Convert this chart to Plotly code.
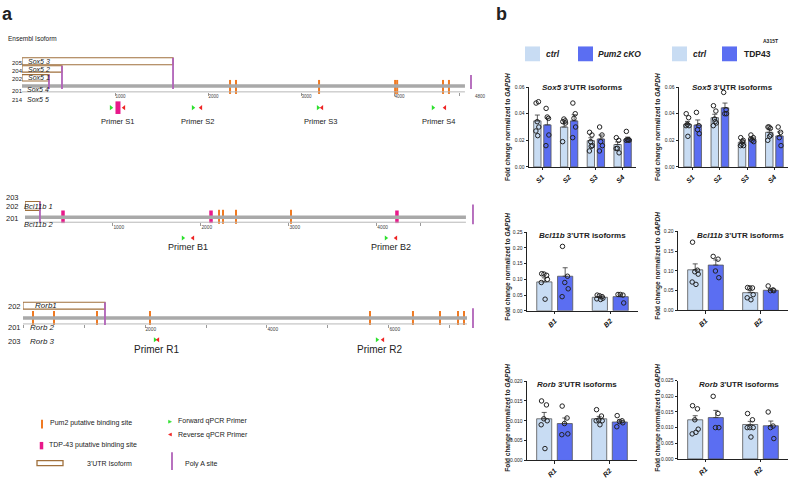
import plotly.graph_objects as go

W, H = 789, 479
FONT = "Liberation Sans, Arial, sans-serif"

def fx(p):
    return p / W

def fy(p):
    return 1 - p / H

ORANGE = "#f07a22"
PINK = "#e8188a"
PURPLE = "#b062b8"
BROWN = "#a0703c"
GREEN = "#2ee02e"
RED = "#ee2424"
LIGHT = "#c8dcf3"
DARK = "#5b6ef2"

# ====================== DATA ======================
# ---- Gene schematics (positions in nucleotides) ----
sox5_iso_names = ["Sox5 3", "Sox5 2", "Sox5 1"]
sox5_iso_ends = [1624, 430, 290]
sox5_ids = ["205", "204", "202", "201", "214"]
sox5_other_names = ["Sox5 4", "Sox5 5"]
sox5_utr_end = 4763
sox5_last_polya = 4828
sox5_pum2 = [2237, 2301, 3194, 4012, 4034, 4527, 4591]
sox5_tdp43 = [1032]
sox5_fwd = [957, 1839, 3183, 4419]
sox5_rev = [1097, 1925, 3226, 4548]
sox5_primer_names = ["Primer S1", "Primer S2", "Primer S3", "Primer S4"]
sox5_tickvals = [1000, 2000, 3000, 4000, 4700]
sox5_ticktext = ["1000", "2000", "3000", "4000", ""]

bcl_iso_names = ["Bcl11b 1"]
bcl_iso_ends = [170]
bcl_ids = ["203", "202", "201"]
bcl_other_names = ["Bcl11b 2"]
bcl_utr_end = 5011
bcl_last_polya = 5091
bcl_pum2 = [2205, 2250, 2398, 3023]
bcl_tdp43 = [432, 2114, 4227]
bcl_fwd = [1795, 4102]
bcl_rev = [1909, 4216]
bcl_primer_names = ["Primer B1", "Primer B2"]
bcl_tickvals = [1000, 2000, 3000, 4000, 4500]
bcl_ticktext = ["1000", "2000", "3000", "4000", ""]

rorb_iso_names = ["Rorb1"]
rorb_iso_ends = [1344]
rorb_ids = ["202", "201", "203"]
rorb_other_names = ["Rorb 2", "Rorb 3"]
rorb_utr_end = 7279
rorb_last_polya = 7377
rorb_pum2 = [164, 508, 1213, 2082, 5689, 6393, 6836, 7131, 7230]
rorb_tdp43 = []
rorb_fwd = [2164, 5803]
rorb_rev = [2213, 5902]
rorb_primer_names = ["Primer R1", "Primer R2"]
rorb_tickvals = [0, 1000, 2000, 3000, 4000, 5000, 6000, 7000]
rorb_ticktext = ["", "", "2000", "", "4000", "", "6000", ""]

# ---- qPCR bar charts ----
sox5_cats = ["S1", "S2", "S3", "S4"]
bcl_cats = ["B1", "B2"]
rorb_cats = ["R1", "R2"]

# Pum2 cKO experiment
sox5_pum2_ctrl_mean = [0.0346, 0.0300, 0.0197, 0.0168]
sox5_pum2_ctrl_sem = [0.0044, 0.0028, 0.0022, 0.0020]
sox5_pum2_ctrl_pts = [[0.048, 0.049, 0.034, 0.030, 0.027, 0.0235],
                      [0.034, 0.0346, 0.036, 0.033, 0.019],
                      [0.026, 0.024, 0.019, 0.016, 0.012, 0.0155],
                      [0.022, 0.020, 0.014, 0.0106, 0.0138]]
sox5_pum2_cko_mean = [0.0316, 0.0346, 0.0210, 0.0210]
sox5_pum2_cko_sem = [0.0050, 0.0046, 0.0030, 0.0014]
sox5_pum2_cko_pts = [[0.044, 0.0365, 0.0375, 0.024, 0.016],
                     [0.048, 0.040, 0.0365, 0.030, 0.022],
                     [0.030, 0.024, 0.019, 0.016, 0.012],
                     [0.0267, 0.0205, 0.0205, 0.020, 0.020]]

bcl_pum2_ctrl_mean = [0.092, 0.043]
bcl_pum2_ctrl_sem = [0.013, 0.003]
bcl_pum2_ctrl_pts = [[0.118, 0.113, 0.117, 0.100, 0.090, 0.037],
                     [0.050, 0.045, 0.048, 0.040, 0.038, 0.036]]
bcl_pum2_cko_mean = [0.110, 0.045]
bcl_pum2_cko_sem = [0.027, 0.006]
bcl_pum2_cko_pts = [[0.205, 0.110, 0.090, 0.070, 0.045],
                    [0.052, 0.050, 0.052, 0.025]]

rorb_pum2_ctrl_mean = [0.0105, 0.0105]
rorb_pum2_ctrl_sem = [0.0016, 0.0006]
rorb_pum2_ctrl_pts = [[0.0150, 0.0140, 0.0105, 0.0100, 0.0090, 0.0030],
                      [0.0128, 0.0112, 0.0102, 0.0100, 0.0100, 0.0090]]
rorb_pum2_cko_mean = [0.0093, 0.0097]
rorb_pum2_cko_sem = [0.0014, 0.0005]
rorb_pum2_cko_pts = [[0.0137, 0.0107, 0.0093, 0.0067, 0.0065],
                     [0.0113, 0.0100, 0.0098, 0.0095, 0.0085]]

# TDP43 A315T experiment
sox5_tdp_ctrl_mean = [0.0320, 0.0370, 0.0185, 0.0260]
sox5_tdp_ctrl_sem = [0.0022, 0.0026, 0.0012, 0.0020]
sox5_tdp_ctrl_pts = [[0.040, 0.037, 0.032, 0.031, 0.031, 0.023],
                     [0.046, 0.042, 0.036, 0.033, 0.031, 0.034],
                     [0.022, 0.020, 0.017, 0.016, 0.016, 0.019],
                     [0.030, 0.029, 0.030, 0.024, 0.020, 0.023]]
sox5_tdp_mut_mean = [0.0315, 0.0444, 0.0210, 0.0233]
sox5_tdp_mut_sem = [0.0038, 0.0036, 0.0012, 0.0030]
sox5_tdp_mut_pts = [[0.041, 0.031, 0.028, 0.025],
                    [0.056, 0.043, 0.040, 0.040],
                    [0.024, 0.022, 0.020, 0.019, 0.021],
                    [0.030, 0.026, 0.022, 0.016]]

bcl_tdp_ctrl_mean = [0.103, 0.045]
bcl_tdp_ctrl_sem = [0.015, 0.005]
bcl_tdp_ctrl_pts = [[0.173, 0.102, 0.098, 0.092, 0.072, 0.066],
                    [0.058, 0.057, 0.057, 0.040, 0.032, 0.027]]
bcl_tdp_mut_mean = [0.115, 0.051]
bcl_tdp_mut_sem = [0.013, 0.003]
bcl_tdp_mut_pts = [[0.137, 0.130, 0.100, 0.083],
                   [0.062, 0.052, 0.050, 0.050]]

rorb_tdp_ctrl_mean = [0.0125, 0.0110]
rorb_tdp_ctrl_sem = [0.0013, 0.0010]
rorb_tdp_ctrl_pts = [[0.0170, 0.0160, 0.0125, 0.0095, 0.0080, 0.0085],
                     [0.0145, 0.0125, 0.0100, 0.0100, 0.0100, 0.0070]]
rorb_tdp_mut_mean = [0.0132, 0.0106]
rorb_tdp_mut_sem = [0.0023, 0.0015]
rorb_tdp_mut_pts = [[0.0200, 0.0145, 0.0100, 0.0100],
                    [0.0150, 0.0105, 0.0100, 0.0065]]

# ====================== FIGURE ======================
BARGAP = 0.25
BARGROUPGAP = 0.27
SLOT = (1 - BARGAP) / 2            # width of one trace slot in category units
OFFSETS = [-SLOT / 2, SLOT / 2]    # centre of ctrl / mutant bars
SPREAD = [-0.35, 0.3, -0.05, 0.4, -0.4, 0.1, 0.2]  # point scatter pattern (fraction of bar width)
BAR_W = SLOT * (1 - BARGROUPGAP)

fig = go.Figure()
shapes = []
annotations = []
axes = {}

def txt(x, y, text, size, xref="paper", yref="paper", xanchor="left", color="#222", angle=0, yanchor="middle"):
    annotations.append(dict(x=x, y=y, xref=xref, yref=yref, text=text, showarrow=False,
                            xanchor=xanchor, yanchor=yanchor, textangle=angle,
                            font=dict(family=FONT, size=size, color=color)))

# Left panel y axis in pixel units
axes["yaxis"] = dict(domain=[0, 1], range=[H, 0], visible=False, fixedrange=True)

GENES = {
    1: dict(domain=(22, 475), xmax=4871, bar_y=84, axis_y=90,
            boxes=[(55.5, 62.5), (63.5, 70), (72.5, 79)], polya_bottom=87,
            last_polya=(73, 87), site_y=85, tdp_y=106, tdp_w=5, tdp_size=9,
            primer_y=106, label_y=120, label_font=7.5,
            id_x=10, id_ys=[61, 69, 77, 89, 98], id_font=6,
            iso_name_x=26, iso_name_ys=[59, 67, 75.5],
            other_name_x=25, other_name_ys=[88, 98], name_font=7, tick_font=4.5),
    2: dict(domain=(25, 475), xmax=5114, bar_y=217, axis_y=222,
            boxes=[(201, 210)], polya_bottom=222,
            last_polya=(204, 224), site_y=216.5, tdp_y=216.5, tdp_w=3.5, tdp_size=9,
            primer_y=238, label_y=247.5, label_font=9,
            id_x=4, id_ys=[197, 206, 218], id_font=7.5,
            iso_name_x=22, iso_name_ys=[206],
            other_name_x=22, other_name_ys=[224], name_font=7.5, tick_font=4.8),
    3: dict(domain=(23, 475), xmax=7410, bar_y=319, axis_y=325,
            boxes=[(303, 310)], polya_bottom=326,
            last_polya=(309, 329), site_y=319, tdp_y=319, tdp_w=3.5, tdp_size=9,
            primer_y=341, label_y=350.5, label_font=10,
            id_x=6, id_ys=[307, 329, 343], id_font=7.5,
            iso_name_x=33, iso_name_ys=[306.5],
            other_name_x=28, other_name_ys=[329, 343], name_font=8, tick_font=4.8),
}

def add_gene(k, iso_ends, iso_names, ids, other_names, utr_end, last_polya,
             pum2, tdp43, fwd, rev, pnames, tickvals, ticktext):
    G = GENES[k]
    xa = "x" if k == 1 else f"x{k}"
    axname = "xaxis" if k == 1 else f"xaxis{k}"
    axes[axname] = dict(domain=[fx(G["domain"][0]), fx(G["domain"][1])], range=[0, G["xmax"]],
                        anchor="free", position=fy(G["axis_y"]), showline=False, showgrid=False,
                        zeroline=False, ticks="outside", ticklen=3, tickwidth=0.8, tickcolor="#9a9a9a",
                        tickvals=tickvals, ticktext=ticktext, ticklabelposition="outside right",
                        tickfont=dict(family=FONT, size=G["tick_font"], color="#444"), fixedrange=True)
    shapes.append(dict(type="line", xref=xa, yref="y", x0=0, x1=utr_end, y0=G["axis_y"], y1=G["axis_y"],
                       line=dict(color="#b8b8b8", width=1)))
    shapes.append(dict(type="line", xref=xa, yref="y", x0=0, x1=utr_end, y0=G["bar_y"], y1=G["bar_y"],
                       line=dict(color="#a9a9a9", width=3.5)))
    for (top, bot), end in zip(G["boxes"], iso_ends):
        shapes.append(dict(type="rect", xref=xa, yref="y", x0=0, x1=end, y0=top, y1=bot,
                           line=dict(color=BROWN, width=1.1), fillcolor="rgba(255,255,255,0)"))
        shapes.append(dict(type="line", xref=xa, yref="y", x0=end, x1=end, y0=top, y1=G["polya_bottom"],
                           line=dict(color=PURPLE, width=1.8)))
    shapes.append(dict(type="line", xref=xa, yref="y", x0=last_polya, x1=last_polya,
                       y0=G["last_polya"][0], y1=G["last_polya"][1], line=dict(color=PURPLE, width=1.8)))
    fig.add_trace(go.Scatter(x=pum2, y=[G["site_y"]] * len(pum2), xaxis=xa, yaxis="y", mode="markers",
                             marker=dict(symbol="line-ns", size=10, color=ORANGE,
                                         line=dict(color=ORANGE, width=2)),
                             cliponaxis=False, showlegend=False, hoverinfo="skip"))
    if tdp43:
        fig.add_trace(go.Scatter(x=tdp43, y=[G["tdp_y"]] * len(tdp43), xaxis=xa, yaxis="y", mode="markers",
                                 marker=dict(symbol="line-ns", size=G["tdp_size"], color=PINK,
                                             line=dict(color=PINK, width=G["tdp_w"])),
                                 cliponaxis=False, showlegend=False, hoverinfo="skip"))
    fig.add_trace(go.Scatter(x=fwd, y=[G["primer_y"]] * len(fwd), xaxis=xa, yaxis="y", mode="markers",
                             marker=dict(symbol="triangle-right", size=4.5, color=GREEN),
                             cliponaxis=False, showlegend=False, hoverinfo="skip"))
    fig.add_trace(go.Scatter(x=rev, y=[G["primer_y"]] * len(rev), xaxis=xa, yaxis="y", mode="markers",
                             marker=dict(symbol="triangle-left", size=4.5, color=RED),
                             cliponaxis=False, showlegend=False, hoverinfo="skip"))
    for f, r, name in zip(fwd, rev, pnames):
        txt((f + r) / 2, G["label_y"], name, G["label_font"], xref=xa, yref="y", xanchor="center")
    for yv, t in zip(G["id_ys"], ids):
        txt(fx(G["id_x"]), yv, t, G["id_font"], yref="y")
    for yv, t in zip(G["iso_name_ys"], iso_names):
        txt(fx(G["iso_name_x"]), yv, f"<i>{t}</i>", G["name_font"], yref="y")
    for yv, t in zip(G["other_name_ys"], other_names):
        txt(fx(G["other_name_x"]), yv, f"<i>{t}</i>", G["name_font"], yref="y")

add_gene(1, sox5_iso_ends, sox5_iso_names, sox5_ids, sox5_other_names, sox5_utr_end, sox5_last_polya,
         sox5_pum2, sox5_tdp43, sox5_fwd, sox5_rev, sox5_primer_names, sox5_tickvals, sox5_ticktext)
add_gene(2, bcl_iso_ends, bcl_iso_names, bcl_ids, bcl_other_names, bcl_utr_end, bcl_last_polya,
         bcl_pum2, bcl_tdp43, bcl_fwd, bcl_rev, bcl_primer_names, bcl_tickvals, bcl_ticktext)
add_gene(3, rorb_iso_ends, rorb_iso_names, rorb_ids, rorb_other_names, rorb_utr_end, rorb_last_polya,
         rorb_pum2, rorb_tdp43, rorb_fwd, rorb_rev, rorb_primer_names, rorb_tickvals, rorb_ticktext)

# extra labels left panel
txt(fx(0), fy(11), "<b>a</b>", 18)
txt(fx(6), fy(36), "Ensembl Isoform", 6.5)
txt(fx(473), fy(94.5), "4800", 4.5, color="#444")

# bottom-left legend
shapes.append(dict(type="line", xref="paper", yref="paper", x0=fx(42), x1=fx(42), y0=fy(422), y1=fy(431),
                   line=dict(color=ORANGE, width=2)))
txt(fx(48), fy(425.5), "Pum2 putative binding site", 7)
shapes.append(dict(type="line", xref="paper", yref="paper", x0=fx(41.5), x1=fx(41.5), y0=fy(444.5), y1=fy(452),
                   line=dict(color=PINK, width=3.5)))
txt(fx(47), fy(448), "TDP-43 putative binding site", 7)
shapes.append(dict(type="rect", xref="paper", yref="paper", x0=fx(37), x1=fx(63), y0=fy(463.5), y1=fy(468.5),
                   line=dict(color=BROWN, width=1.3)))
txt(fx(85), fy(466), "3'UTR Isoform", 7)
shapes.append(dict(type="path", xref="paper", yref="paper",
                   path=f"M {fx(168.5)} {fy(422.5)} L {fx(171.5)} {fy(424)} L {fx(168.5)} {fy(425.5)} Z",
                   fillcolor=GREEN, line=dict(color=GREEN, width=0.5)))
txt(fx(176), fy(423.5), "Forward qPCR Primer", 7)
shapes.append(dict(type="path", xref="paper", yref="paper",
                   path=f"M {fx(171.5)} {fy(435.5)} L {fx(168.5)} {fy(437)} L {fx(171.5)} {fy(438.5)} Z",
                   fillcolor=RED, line=dict(color=RED, width=0.5)))
txt(fx(176), fy(437), "Reverse qPCR Primer", 7)
shapes.append(dict(type="line", xref="paper", yref="paper", x0=fx(172), x1=fx(172), y0=fy(455), y1=fy(473),
                   line=dict(color=PURPLE, width=1.8)))
txt(fx(183), fy(467), "Poly A site", 7)

# ---------------- right panel ----------------
txt(fx(494), fy(11), "<b>b</b>", 18)
for x0, col in [(525, LIGHT), (578, DARK), (672, LIGHT), (722, DARK)]:
    shapes.append(dict(type="rect", xref="paper", yref="paper", x0=fx(x0), x1=fx(x0 + 15),
                       y0=fy(59), y1=fy(44), line=dict(width=0), fillcolor=col))
txt(fx(544), fy(52), "<b><i>ctrl</i></b>", 8.5)
txt(fx(596), fy(52), "<b><i>Pum2 cKO</i></b>", 8.5)
txt(fx(691), fy(52), "<b><i>ctrl</i></b>", 8.5)
txt(fx(742), fy(52), "<b>TDP43</b>", 8.5)
txt(fx(761), fy(38), "<b>A315T</b>", 5)

CHARTS = {
    4: dict(x0=529, x1=636, y_top=85, y_bot=166, ymax=0.06, dtick=0.02, fmt=".2f",
            title_x=582, title_y=85.5, ylab_x=508, ylab_y=125.5),
    5: dict(x0=679, x1=788, y_top=85, y_bot=166, ymax=0.06, dtick=0.02, fmt=".2f",
            title_x=732, title_y=85.5, ylab_x=658, ylab_y=125.5),
    6: dict(x0=527, x1=638, y_top=232, y_bot=311.7, ymax=0.25, dtick=0.05, fmt=".2f",
            title_x=582, title_y=235, ylab_x=508, ylab_y=267),
    7: dict(x0=678, x1=788, y_top=231.3, y_bot=311.3, ymax=0.20, dtick=0.05, fmt=".2f",
            title_x=740, title_y=235, ylab_x=658, ylab_y=266),
    8: dict(x0=527, x1=637, y_top=382.7, y_bot=463.3, ymax=0.020, dtick=0.005, fmt=".3f",
            title_x=577, title_y=386, ylab_x=508, ylab_y=420),
    9: dict(x0=678, x1=788, y_top=382.3, y_bot=461.7, ymax=0.025, dtick=0.005, fmt=".3f",
            title_x=739, title_y=386, ylab_x=658, ylab_y=420),
}

def add_bar_chart(k, gene, cats, c_mean, c_sem, c_pts, m_mean, m_sem, m_pts):
    C = CHARTS[k]
    xa, ya = f"x{k}", f"y{k}"
    n = len(cats)
    idx = list(range(n))
    nt = int(round(C["ymax"] / C["dtick"]))
    tv = [round(i * C["dtick"], 4) for i in range(nt + 1)]
    axes[f"xaxis{k}"] = dict(domain=[fx(C["x0"]), fx(C["x1"])], anchor=ya,
                             range=[-0.5, n - 0.5], showline=True, linecolor="#222", linewidth=0.9,
                             ticks="outside", ticklen=2.5, tickwidth=0.8, tickcolor="#222", tickangle=-45,
                             tickvals=idx, ticktext=[f"<b><i>{c}</i></b>" for c in cats],
                             tickfont=dict(family=FONT, size=7, color="#111"), showgrid=False,
                             zeroline=False, fixedrange=True)
    axes[f"yaxis{k}"] = dict(domain=[fy(C["y_bot"]), fy(C["y_top"])], anchor=xa,
                             range=[0, C["ymax"] * 1.002], tickvals=tv, tickformat=C["fmt"],
                             ticks="outside", ticklen=2.5, tickwidth=0.8, tickcolor="#222",
                             showline=True, linecolor="#222", linewidth=0.9,
                             tickfont=dict(family=FONT, size=5, color="#222"), showgrid=False,
                             zeroline=False, fixedrange=True)
    for mean, sem, col in [(c_mean, c_sem, LIGHT), (m_mean, m_sem, DARK)]:
        fig.add_trace(go.Bar(x=idx, y=mean, xaxis=xa, yaxis=ya,
                             marker=dict(color=col, line=dict(color="#555", width=0.8)),
                             error_y=dict(type="data", array=sem, arrayminus=[0] * len(sem), symmetric=False,
                                          color="#333", thickness=0.8, width=2.5),
                             showlegend=False, hoverinfo="skip"))
    for off, pts in zip(OFFSETS, [c_pts, m_pts]):
        xs, ys = [], []
        for i, p in zip(idx, pts):
            for j, v in enumerate(p):
                xs.append(i + off + SPREAD[j % len(SPREAD)] * BAR_W * 0.5)
                ys.append(v)
        fig.add_trace(go.Scatter(x=xs, y=ys, xaxis=xa, yaxis=ya, mode="markers",
                                 marker=dict(symbol="circle-open", size=4.5, color="#222",
                                             line=dict(color="#222", width=1)),
                                 cliponaxis=False, showlegend=False, hoverinfo="skip"))
    txt(fx(C["title_x"]), fy(C["title_y"]), f"<b><i>{gene}</i> 3'UTR isoforms</b>", 8, xanchor="center")
    txt(fx(C["ylab_x"]), fy(C["ylab_y"]), "<b>Fold change normalized to <i>GAPDH</i></b>", 6.5,
        xanchor="center", angle=-90)

add_bar_chart(4, "Sox5", sox5_cats, sox5_pum2_ctrl_mean, sox5_pum2_ctrl_sem, sox5_pum2_ctrl_pts,
              sox5_pum2_cko_mean, sox5_pum2_cko_sem, sox5_pum2_cko_pts)
add_bar_chart(5, "Sox5", sox5_cats, sox5_tdp_ctrl_mean, sox5_tdp_ctrl_sem, sox5_tdp_ctrl_pts,
              sox5_tdp_mut_mean, sox5_tdp_mut_sem, sox5_tdp_mut_pts)
add_bar_chart(6, "Bcl11b", bcl_cats, bcl_pum2_ctrl_mean, bcl_pum2_ctrl_sem, bcl_pum2_ctrl_pts,
              bcl_pum2_cko_mean, bcl_pum2_cko_sem, bcl_pum2_cko_pts)
add_bar_chart(7, "Bcl11b", bcl_cats, bcl_tdp_ctrl_mean, bcl_tdp_ctrl_sem, bcl_tdp_ctrl_pts,
              bcl_tdp_mut_mean, bcl_tdp_mut_sem, bcl_tdp_mut_pts)
add_bar_chart(8, "Rorb", rorb_cats, rorb_pum2_ctrl_mean, rorb_pum2_ctrl_sem, rorb_pum2_ctrl_pts,
              rorb_pum2_cko_mean, rorb_pum2_cko_sem, rorb_pum2_cko_pts)
add_bar_chart(9, "Rorb", rorb_cats, rorb_tdp_ctrl_mean, rorb_tdp_ctrl_sem, rorb_tdp_ctrl_pts,
              rorb_tdp_mut_mean, rorb_tdp_mut_sem, rorb_tdp_mut_pts)

fig.update_layout(
    width=W, height=H, margin=dict(l=0, r=0, t=0, b=0),
    paper_bgcolor="white", plot_bgcolor="rgba(0,0,0,0)",
    font=dict(family=FONT, color="#222"),
    barmode="group", bargap=BARGAP, bargroupgap=BARGROUPGAP,
    showlegend=False, shapes=shapes, annotations=annotations, **axes,
)

fig.write_html("out.html", config={"displayModeBar": False},
               post_script="document.body.style.margin='0px';document.body.style.overflow='hidden';")
